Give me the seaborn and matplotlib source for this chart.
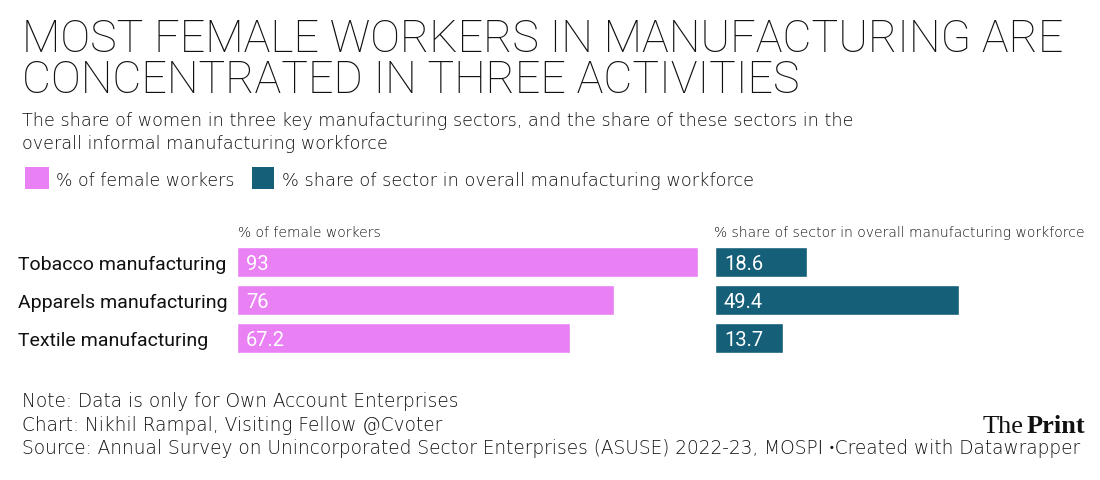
import matplotlib
matplotlib.use("Agg")
import matplotlib.pyplot as plt
import seaborn as sns
import pandas as pd
from matplotlib.patches import Rectangle
from matplotlib import font_manager as fm

# ---------------- data ----------------
sectors = ["Tobacco manufacturing", "Apparels manufacturing", "Textile manufacturing"]
female_share = [93, 76, 67.2]
sector_share = [18.6, 49.4, 13.7]
female_labels = ["93", "76", "67.2"]
sector_labels = ["18.6", "49.4", "13.7"]

title_lines = ["MOST FEMALE WORKERS IN MANUFACTURING ARE", "CONCENTRATED IN THREE ACTIVITIES"]
subtitle_lines = ["The share of women in three key manufacturing sectors, and the share of these sectors in the",
                  "overall informal manufacturing workforce"]
legend_labels = ["% of female workers", "% share of sector in overall manufacturing workforce"]
footer_lines = ["Note: Data is only for Own Account Enterprises",
                "Chart: Nikhil Rampal, Visiting Fellow @Cvoter",
                "Source: Annual Survey on Unincorporated Sector Enterprises (ASUSE) 2022-23, MOSPI \u2022Created with Datawrapper"]

PINK = "#E980F4"
TEAL = "#155F79"

# ---------------- setup ----------------
sns.set_theme(style="white")
plt.rcParams["font.family"] = ["DejaVu Sans"]

available = {f.name for f in fm.fontManager.ttflist}
def pick(*names):
    for n in names:
        if n in available:
            return n
    return "DejaVu Sans"

TITLE_FONT = pick("Roboto", "DejaVu Sans")
BODY_FONT = ["DejaVu Sans", pick("Roboto", "Lato", "DejaVu Sans")]
LABEL_FONT = pick("Roboto", "DejaVu Sans")
SERIF_FONT = pick("Liberation Serif", "DejaVu Serif")

W, H = 1100, 481
fig = plt.figure(figsize=(W / 100, H / 100), dpi=100)
fig.patch.set_facecolor("white")
renderer = fig.canvas.get_renderer()

def fx(x):
    return x / W

def fy(y):
    return 1 - y / H

def put(s, x, y, size, ha="left", **kw):
    return fig.text(fx(x), fy(y), s, fontsize=size, ha=ha, va="baseline", **kw)

def fit(s, x, y, width, size, ha="left", **kw):
    t = put(s, x, y, size, ha=ha, **kw)
    w = t.get_window_extent(renderer).width
    t.set_fontsize(size * width / w)
    return t

TXT = "#111111"

# ---------------- title & subtitle ----------------
t1 = fit(title_lines[0], 22, 52, 1043, 34, family=TITLE_FONT, weight=100, color="#111111")
put(title_lines[1], 22, 93, t1.get_fontsize(), family=TITLE_FONT, weight=100, color="#111111")

s1 = fit(subtitle_lines[0], 22, 126, 828, 12, family=BODY_FONT, weight=200, color=TXT)
put(subtitle_lines[1], 22, 149, s1.get_fontsize(), family=BODY_FONT, weight=200, color=TXT)

# ---------------- legend ----------------
fig.patches.append(Rectangle((fx(25), fy(190)), 24 / W, 22 / H, transform=fig.transFigure,
                             facecolor=PINK, edgecolor="none"))
fig.patches.append(Rectangle((fx(252), fy(190)), 22 / W, 22 / H, transform=fig.transFigure,
                             facecolor=TEAL, edgecolor="none"))
fit(legend_labels[0], 56, 186, 178, 12, family=BODY_FONT, weight=200, color=TXT)
fit(legend_labels[1], 282, 186, 471, 12, family=BODY_FONT, weight=200, color=TXT)

# ---------------- column headers ----------------
fit(legend_labels[0], 238, 237, 141, 8.5, family=BODY_FONT, weight=200, color=TXT)
fit(legend_labels[1], 714, 237, 369, 8.5, family=BODY_FONT, weight=200, color=TXT)

# ---------------- bars ----------------
df = pd.DataFrame({"sector": sectors, "female": female_share, "share": sector_share})

ax1 = fig.add_axes([fx(237), fy(358), 461 / W, 114 / H])
ax2 = fig.add_axes([fx(715), fy(358), 370 / W, 114 / H])

sns.barplot(data=df, y="sector", x="female", color=PINK, saturation=1, width=30 / 38,
            ax=ax1, orient="h")
sns.barplot(data=df, y="sector", x="share", color=TEAL, saturation=1, width=30 / 38,
            ax=ax2, orient="h")

ax1.set_xlim(0, 93)
ax2.set_xlim(0, 370 / 4.94)

for ax, labels in ((ax1, female_labels), (ax2, sector_labels)):
    ax.set_facecolor("none")
    for sp in ax.spines.values():
        sp.set_visible(False)
    ax.set_xlabel("")
    ax.set_ylabel("")
    ax.set_xticks([])
    for p, lab in zip(ax.patches, labels):
        ax.annotate(lab, (p.get_x(), p.get_y() + p.get_height() / 2),
                    xytext=(9, -7), textcoords="offset pixels",
                    ha="left", va="baseline", color="white",
                    fontsize=14.5, family=LABEL_FONT)

ax1.tick_params(axis="y", length=0, pad=(237 - 18) * 0.72, labelsize=14, labelcolor="#111111")
for lab in ax1.get_yticklabels():
    lab.set_horizontalalignment("left")
    lab.set_family(LABEL_FONT)
ax2.set_yticks([])

# ---------------- footer ----------------
f3 = fit(footer_lines[2], 22, 454, 1060, 11, family=BODY_FONT, weight=200, color=TXT)
put(footer_lines[0], 22, 407, f3.get_fontsize(), family=BODY_FONT, weight=200, color=TXT)
put(footer_lines[1], 22, 431, f3.get_fontsize(), family=BODY_FONT, weight=200, color=TXT)

# logo
tp = put("Print", 1085, 433, 19, ha="right", family=SERIF_FONT, weight="bold", color="#111")
bb = tp.get_window_extent(renderer)
put("The", bb.x0 - 3, 433, 19, ha="right", family=SERIF_FONT, color="#111")

fig.savefig("out.png", dpi=100, facecolor="white")
